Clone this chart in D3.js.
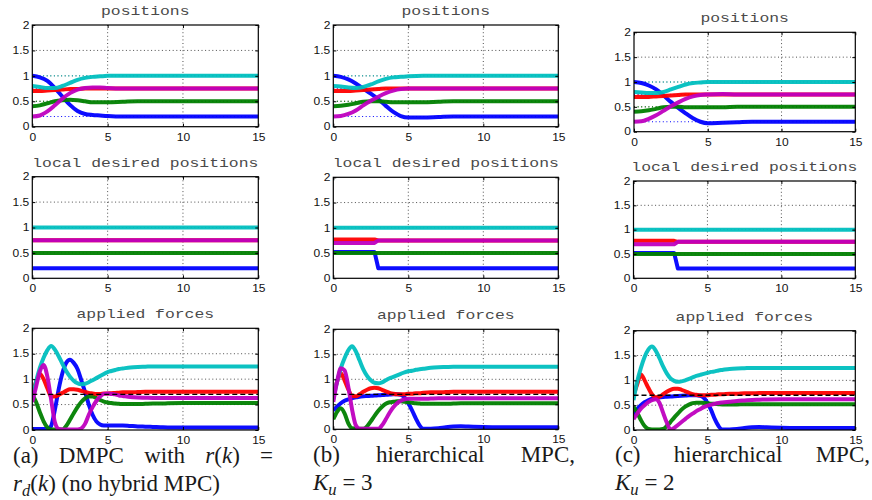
<!DOCTYPE html>
<html>
<head>
<meta charset="utf-8">
<script src="https://cdn.jsdelivr.net/npm/d3@7"></script>
<style>
  body { margin: 0; background: #fff; }
  svg { display: block; }
</style>
</head>
<body>
<script>
// ---- data ----
const xTicks = [0, 5, 10, 15];
const yTicks = [0, 0.5, 1, 1.5, 2];
const gridX = [5, 10];
const gridY = [0.5, 1, 1.5];
const titles = ['positions', 'local desired positions', 'applied forces'];
const seriesOrder = ['blue', 'green', 'red', 'cyan', 'magenta'];
const seriesColors = ['#0000ff', '#008000', '#ff0000', '#00bfbf', '#bf00bf'];
const targets = [0.2, 0.5, 0.75, 1, 0.75];   // desired positions (dotted)
const forceRef = 0.7;                         // dashed line in force plots

// positions
const tPos = [0, 0.5, 1, 1.5, 2, 2.5, 3, 3.5, 4, 4.5, 5, 6, 7, 8, 10, 15];
const posA_blue    = [1.0, 0.97, 0.9, 0.76, 0.59, 0.43, 0.31, 0.25, 0.23, 0.22, 0.21, 0.2, 0.2, 0.2, 0.2, 0.2];
const posA_green   = [0.4, 0.42, 0.46, 0.5, 0.52, 0.53, 0.52, 0.5, 0.48, 0.48, 0.48, 0.49, 0.5, 0.5, 0.5, 0.5];
const posA_red     = [0.7, 0.7, 0.71, 0.72, 0.73, 0.74, 0.74, 0.75, 0.75, 0.75, 0.75, 0.75, 0.75, 0.75, 0.75, 0.75];
const posA_cyan    = [0.8, 0.78, 0.76, 0.76, 0.8, 0.86, 0.92, 0.96, 0.98, 0.99, 1.0, 1.0, 1.0, 1.0, 1.0, 1.0];
const posA_magenta = [0.2, 0.22, 0.3, 0.42, 0.55, 0.66, 0.73, 0.76, 0.77, 0.77, 0.76, 0.75, 0.75, 0.75, 0.75, 0.75];

const posB_blue    = [1.0, 0.98, 0.93, 0.85, 0.75, 0.65, 0.54, 0.41, 0.29, 0.21, 0.18, 0.18, 0.19, 0.2, 0.2, 0.2];
const posB_green   = [0.4, 0.41, 0.43, 0.46, 0.49, 0.5, 0.5, 0.49, 0.48, 0.48, 0.48, 0.48, 0.49, 0.5, 0.5, 0.5];
const posB_red     = [0.7, 0.7, 0.7, 0.71, 0.72, 0.73, 0.74, 0.75, 0.75, 0.75, 0.75, 0.75, 0.75, 0.75, 0.75, 0.75];
const posB_cyan    = [0.8, 0.79, 0.77, 0.76, 0.78, 0.83, 0.89, 0.94, 0.97, 0.98, 0.99, 1.0, 1.0, 1.0, 1.0, 1.0];
const posB_magenta = [0.2, 0.21, 0.25, 0.32, 0.42, 0.51, 0.59, 0.66, 0.71, 0.74, 0.75, 0.75, 0.75, 0.75, 0.75, 0.75];

const posC_blue    = [1.0, 0.98, 0.93, 0.85, 0.73, 0.6, 0.48, 0.37, 0.27, 0.2, 0.17, 0.18, 0.19, 0.2, 0.2, 0.2];
const posC_green   = [0.4, 0.41, 0.43, 0.46, 0.49, 0.5, 0.5, 0.49, 0.49, 0.49, 0.49, 0.49, 0.5, 0.5, 0.5, 0.5];
const posC_red     = [0.7, 0.7, 0.7, 0.71, 0.72, 0.73, 0.74, 0.75, 0.75, 0.75, 0.75, 0.75, 0.75, 0.75, 0.75, 0.75];
const posC_cyan    = [0.8, 0.79, 0.78, 0.78, 0.8, 0.85, 0.9, 0.95, 0.98, 0.99, 1.0, 1.0, 1.0, 1.0, 1.0, 1.0];
const posC_magenta = [0.2, 0.21, 0.26, 0.33, 0.42, 0.51, 0.59, 0.66, 0.71, 0.74, 0.75, 0.76, 0.75, 0.75, 0.75, 0.75];

// local desired positions
const tLocal = [0, 2.75, 3, 15];
const locA_blue    = [0.2, 0.2, 0.2, 0.2];
const locA_green   = [0.5, 0.5, 0.5, 0.5];
const locA_red     = [0.75, 0.75, 0.75, 0.75];
const locA_cyan    = [1, 1, 1, 1];
const locA_magenta = [0.75, 0.75, 0.75, 0.75];

const locB_blue    = [0.52, 0.52, 0.2, 0.2];
const locB_green   = [0.5, 0.5, 0.5, 0.5];
const locB_red     = [0.77, 0.77, 0.75, 0.75];
const locB_cyan    = [1, 1, 1, 1];
const locB_magenta = [0.7, 0.7, 0.75, 0.75];

const locC_blue    = [0.52, 0.52, 0.2, 0.2];
const locC_green   = [0.5, 0.5, 0.5, 0.5];
const locC_red     = [0.77, 0.77, 0.75, 0.75];
const locC_cyan    = [1, 1, 1, 1];
const locC_magenta = [0.7, 0.7, 0.75, 0.75];

// applied forces
const tForce = [0, 0.25, 0.5, 0.75, 1, 1.25, 1.5, 1.75, 2, 2.25, 2.5, 2.75, 3, 3.25, 3.5, 3.75, 4, 4.25,
                4.5, 4.75, 5, 5.25, 5.5, 5.75, 6, 6.5, 7, 7.5, 8, 8.5, 9, 10, 11, 12, 15];
const frcA_blue    = [0.02, 0.02, 0.02, 0.02, 0.02, 0.08, 0.4, 0.8, 1.12, 1.32, 1.38, 1.32, 1.2, 0.98, 0.75, 0.5, 0.3, 0.17,
                      0.11, 0.09, 0.09, 0.09, 0.09, 0.09, 0.09, 0.08, 0.07, 0.065, 0.06, 0.055, 0.05, 0.05, 0.05, 0.05, 0.05];
const frcA_green   = [0.7, 0.55, 0.35, 0.17, 0.05, 0.01, 0.01, 0.01, 0.01, 0.08, 0.2, 0.33, 0.45, 0.55, 0.62, 0.66, 0.66, 0.63,
                      0.59, 0.56, 0.54, 0.53, 0.52, 0.515, 0.51, 0.51, 0.51, 0.515, 0.52, 0.52, 0.525, 0.53, 0.53, 0.53, 0.53];
const frcA_red     = [0.7, 0.95, 1.1, 1.0, 0.82, 0.66, 0.66, 0.69, 0.73, 0.77, 0.8, 0.8, 0.79, 0.77, 0.75, 0.73, 0.72, 0.71,
                      0.71, 0.72, 0.72, 0.725, 0.73, 0.735, 0.74, 0.74, 0.745, 0.75, 0.75, 0.75, 0.75, 0.75, 0.75, 0.75, 0.75];
const frcA_cyan    = [0.6, 0.95, 1.22, 1.42, 1.57, 1.65, 1.58, 1.45, 1.3, 1.16, 1.05, 0.97, 0.92, 0.9, 0.91, 0.94, 0.98, 1.02,
                      1.06, 1.1, 1.14, 1.16, 1.18, 1.2, 1.21, 1.23, 1.24, 1.245, 1.25, 1.25, 1.25, 1.25, 1.25, 1.25, 1.25];
const frcA_magenta = [0.55, 0.85, 1.15, 1.28, 1.05, 0.6, 0.15, 0.02, 0.01, 0.01, 0.01, 0.01, 0.01, 0.03, 0.12, 0.3, 0.45, 0.57,
                      0.66, 0.71, 0.72, 0.71, 0.7, 0.68, 0.67, 0.65, 0.64, 0.635, 0.63, 0.63, 0.63, 0.63, 0.63, 0.63, 0.63];

const frcB_blue    = [0.38, 0.45, 0.52, 0.57, 0.6, 0.62, 0.64, 0.65, 0.66, 0.665, 0.67, 0.675, 0.68, 0.685, 0.69, 0.695, 0.7, 0.7,
                      0.69, 0.64, 0.52, 0.38, 0.22, 0.08, 0.01, 0.01, 0.02, 0.04, 0.055, 0.06, 0.055, 0.045, 0.04, 0.04, 0.04];
const frcB_green   = [0.2, 0.35, 0.42, 0.32, 0.12, 0.02, 0.01, 0.01, 0.01, 0.06, 0.16, 0.27, 0.37, 0.45, 0.51, 0.54, 0.55, 0.56,
                      0.56, 0.55, 0.54, 0.53, 0.52, 0.515, 0.51, 0.51, 0.51, 0.51, 0.515, 0.52, 0.52, 0.52, 0.52, 0.52, 0.52];
const frcB_red     = [0.7, 0.95, 1.12, 0.98, 0.8, 0.67, 0.66, 0.7, 0.75, 0.79, 0.82, 0.83, 0.82, 0.79, 0.76, 0.73, 0.71, 0.7,
                      0.7, 0.7, 0.71, 0.71, 0.72, 0.72, 0.73, 0.74, 0.74, 0.745, 0.75, 0.75, 0.75, 0.75, 0.75, 0.75, 0.75];
const frcB_cyan    = [0.6, 0.95, 1.22, 1.42, 1.58, 1.66, 1.56, 1.38, 1.2, 1.07, 0.98, 0.93, 0.92, 0.94, 0.98, 1.02, 1.05, 1.08,
                      1.11, 1.14, 1.16, 1.17, 1.19, 1.2, 1.21, 1.23, 1.24, 1.245, 1.25, 1.25, 1.25, 1.25, 1.25, 1.25, 1.25];
const frcB_magenta = [0.55, 0.95, 1.22, 1.18, 0.85, 0.4, 0.08, 0.01, 0.01, 0.01, 0.01, 0.01, 0.01, 0.08, 0.2, 0.33, 0.44, 0.52,
                      0.57, 0.6, 0.61, 0.61, 0.61, 0.61, 0.61, 0.615, 0.62, 0.62, 0.62, 0.62, 0.62, 0.62, 0.62, 0.62, 0.62];

const frcC_blue    = [0.3, 0.42, 0.5, 0.56, 0.6, 0.63, 0.645, 0.655, 0.665, 0.67, 0.675, 0.68, 0.685, 0.69, 0.695, 0.7, 0.7, 0.7,
                      0.69, 0.65, 0.55, 0.4, 0.22, 0.08, 0.01, 0.01, 0.02, 0.04, 0.055, 0.06, 0.055, 0.045, 0.04, 0.04, 0.04];
const frcC_green   = [0.47, 0.35, 0.2, 0.08, 0.02, 0.01, 0.01, 0.01, 0.02, 0.08, 0.16, 0.25, 0.33, 0.41, 0.47, 0.51, 0.54, 0.55,
                      0.55, 0.545, 0.54, 0.53, 0.525, 0.52, 0.515, 0.515, 0.515, 0.52, 0.52, 0.52, 0.52, 0.52, 0.52, 0.52, 0.52];
const frcC_red     = [0.7, 0.92, 1.12, 1.0, 0.85, 0.72, 0.66, 0.67, 0.72, 0.77, 0.81, 0.83, 0.83, 0.81, 0.78, 0.75, 0.72, 0.71,
                      0.7, 0.7, 0.7, 0.71, 0.71, 0.72, 0.72, 0.73, 0.73, 0.74, 0.74, 0.745, 0.745, 0.745, 0.745, 0.745, 0.745];
const frcC_cyan    = [0.6, 0.98, 1.25, 1.47, 1.62, 1.68, 1.6, 1.45, 1.28, 1.14, 1.04, 0.99, 0.97, 0.98, 1.0, 1.03, 1.06, 1.09,
                      1.11, 1.13, 1.15, 1.17, 1.18, 1.2, 1.21, 1.23, 1.24, 1.245, 1.25, 1.25, 1.25, 1.25, 1.25, 1.25, 1.25];
const frcC_magenta = [0.22, 0.33, 0.43, 0.5, 0.56, 0.6, 0.62, 0.55, 0.35, 0.15, 0.01, 0.04, 0.1, 0.16, 0.22, 0.28, 0.33, 0.38,
                      0.42, 0.46, 0.49, 0.51, 0.53, 0.545, 0.555, 0.57, 0.585, 0.595, 0.605, 0.61, 0.615, 0.62, 0.62, 0.62, 0.62];

// ---- layout ----
const width = 872, height = 500;
const svg = d3.select('body').append('svg')
  .attr('width', width)
  .attr('height', height);

// plot boxes [left, top, right, bottom] per column, per row
const boxes = [
  [[32.3, 25, 258.3, 126.7], [32.3, 176.7, 258.3, 278.3], [32.3, 328.3, 258.3, 430]],
  [[333.3, 25, 558.3, 126.7], [333.3, 177.3, 558.3, 278.3], [333.3, 329.3, 558.3, 429.3]],
  [[634, 32.3, 855.3, 131.7], [633.5, 181, 855.3, 278.3], [633.5, 330.7, 855.3, 430]]
];

const panelData = [
  [[tPos, [posA_blue, posA_green, posA_red, posA_cyan, posA_magenta]],
   [tLocal, [locA_blue, locA_green, locA_red, locA_cyan, locA_magenta]],
   [tForce, [frcA_blue, frcA_green, frcA_red, frcA_cyan, frcA_magenta]]],
  [[tPos, [posB_blue, posB_green, posB_red, posB_cyan, posB_magenta]],
   [tLocal, [locB_blue, locB_green, locB_red, locB_cyan, locB_magenta]],
   [tForce, [frcB_blue, frcB_green, frcB_red, frcB_cyan, frcB_magenta]]],
  [[tPos, [posC_blue, posC_green, posC_red, posC_cyan, posC_magenta]],
   [tLocal, [locC_blue, locC_green, locC_red, locC_cyan, locC_magenta]],
   [tForce, [frcC_blue, frcC_green, frcC_red, frcC_cyan, frcC_magenta]]]
];

// stretch text horizontally (the figure uses wide, short glyphs)
const stretch = (sel, k) => sel.each(function () {
  const w = this.getComputedTextLength();
  this.setAttribute('textLength', w * k);
  this.setAttribute('lengthAdjust', 'spacingAndGlyphs');
});

let clipId = 0;
const drawPanel = (box, row, t, series) => {
  const [x0, y0, x1, y1] = box;
  const x = d3.scaleLinear().domain([0, 15]).range([x0, x1]);
  const y = d3.scaleLinear().domain([0, 2]).range([y1, y0]);
  const g = svg.append('g');

  const id = 'clip' + (clipId++);
  g.append('clipPath').attr('id', id)
    .append('rect').attr('x', x0).attr('y', y0).attr('width', x1 - x0).attr('height', y1 - y0);

  // grid
  g.selectAll('.gx').data(gridX).join('line').attr('class', 'gx')
    .attr('x1', d => x(d)).attr('x2', d => x(d)).attr('y1', y0).attr('y2', y1)
    .attr('stroke', '#222').attr('stroke-width', 0.8).attr('stroke-dasharray', '1,2.6');
  g.selectAll('.gy').data(gridY).join('line').attr('class', 'gy')
    .attr('x1', x0).attr('x2', x1).attr('y1', d => y(d)).attr('y2', d => y(d))
    .attr('stroke', '#222').attr('stroke-width', 0.8).attr('stroke-dasharray', '1,2.6');

  const plot = g.append('g').attr('clip-path', `url(#${id})`);

  // dotted desired positions in the position plots
  if (row === 0) {
    plot.selectAll('.ref').data(targets).join('line').attr('class', 'ref')
      .attr('x1', x0).attr('x2', x1).attr('y1', d => y(d)).attr('y2', d => y(d))
      .attr('stroke', (d, i) => seriesColors[i]).attr('stroke-width', 1)
      .attr('stroke-dasharray', '1,2.6');
  }

  const line = d3.line()
    .x((d, i) => x(t[i]))
    .y(d => y(d))
    .curve(row === 1 ? d3.curveLinear : d3.curveMonotoneX);

  series.forEach((vals, i) => {
    plot.append('path').datum(vals)
      .attr('d', line)
      .attr('fill', 'none')
      .attr('stroke', seriesColors[i])
      .attr('stroke-width', 4)
      .attr('stroke-linejoin', 'round')
      .attr('stroke-opacity', 0.95);
  });

  if (row === 2) {
    plot.append('line')
      .attr('x1', x0).attr('x2', x1).attr('y1', y(forceRef)).attr('y2', y(forceRef))
      .attr('stroke', '#000').attr('stroke-width', 1.3).attr('stroke-dasharray', '5,3');
  }

  // axes (ticks inside, box on)
  const xa = g.append('g').attr('transform', `translate(0,${y1})`)
    .call(d3.axisBottom(x).tickValues(xTicks).tickSizeInner(-3).tickSizeOuter(0).tickPadding(7));
  const ya = g.append('g').attr('transform', `translate(${x0},0)`)
    .call(d3.axisLeft(y).tickValues(yTicks).tickFormat(d3.format('~g')).tickSizeInner(-3).tickSizeOuter(0).tickPadding(3));
  g.append('g').attr('transform', `translate(0,${y0})`)
    .call(d3.axisTop(x).tickValues(xTicks).tickSizeInner(-3).tickSizeOuter(0).tickFormat(''));
  g.append('g').attr('transform', `translate(${x1},0)`)
    .call(d3.axisRight(y).tickValues(yTicks).tickSizeInner(-3).tickSizeOuter(0).tickFormat(''));
  g.selectAll('.domain').remove();
  g.selectAll('.tick line').attr('stroke', '#000');

  [xa, ya].forEach(a => {
    a.attr('font-family', '"Liberation Sans", Arial, sans-serif').attr('font-size', 10);
    a.selectAll('text').attr('fill', '#111');
    stretch(a.selectAll('text'), 1.2);
  });

  g.append('rect')
    .attr('x', x0).attr('y', y0).attr('width', x1 - x0).attr('height', y1 - y0)
    .attr('fill', 'none').attr('stroke', '#000').attr('stroke-width', 1.2);

  const tt = g.append('text')
    .attr('x', (x0 + x1) / 2).attr('y', y0 - 10)
    .attr('text-anchor', 'middle')
    .attr('font-family', '"Liberation Mono", "Courier New", monospace')
    .attr('font-size', 13)
    .attr('fill', '#4a4a4a')
    .text(titles[row]);
  stretch(tt, 1.26);
};

boxes.forEach((col, c) => col.forEach((box, r) => {
  const [t, series] = panelData[c][r];
  drawPanel(box, r, t, series);
}));

// ---- captions (serif, first line justified) ----
const capFont = '"Liberation Serif", "Times New Roman", serif';
const capSize = 23;

// segment: [text, italic, subscript]
const addWord = (parent, segs) => {
  const txt = parent.append('text')
    .attr('font-family', capFont).attr('font-size', capSize).attr('fill', '#1a1a1a');
  segs.forEach(([s, it, sub]) => {
    const ts = txt.append('tspan').text(s);
    if (it) ts.attr('font-style', 'italic');
    if (sub) ts.attr('font-size', capSize * 0.72).attr('dy', 5);
    else if (txt.node().dataset.sub === '1') ts.attr('dy', -5);
    txt.node().dataset.sub = sub ? '1' : '0';
  });
  return txt;
};

const justifyLine = (words, xl, xr, yb) => {
  const g = svg.append('g');
  const nodes = words.map(w => addWord(g, w));
  const widths = nodes.map(n => n.node().getComputedTextLength());
  const gap = (xr - xl - d3.sum(widths)) / (words.length - 1);
  let cx = xl;
  nodes.forEach((n, i) => {
    n.attr('x', cx).attr('y', yb);
    cx += widths[i] + gap;
  });
};

const plainLine = (segs, xl, yb) => {
  const g = svg.append('g');
  addWord(g, segs).attr('x', xl).attr('y', yb);
};

justifyLine([[['(a)']], [['DMPC']], [['with']], [['r', true], ['('], ['k', true], [')']], [['=']]], 13, 273, 463);
plainLine([['r', true], ['d', true, true], ['('], ['k', true], [')'], [' (no hybrid MPC)']], 13, 491);

justifyLine([[['(b)']], [['hierarchical']], [['MPC,']]], 313, 575, 462);
plainLine([['K', true], ['u', true, true], [' = 3']], 313, 490);

justifyLine([[['(c)']], [['hierarchical']], [['MPC,']]], 615, 870, 462);
plainLine([['K', true], ['u', true, true], [' = 2']], 615, 490);
</script>
</body>
</html>
